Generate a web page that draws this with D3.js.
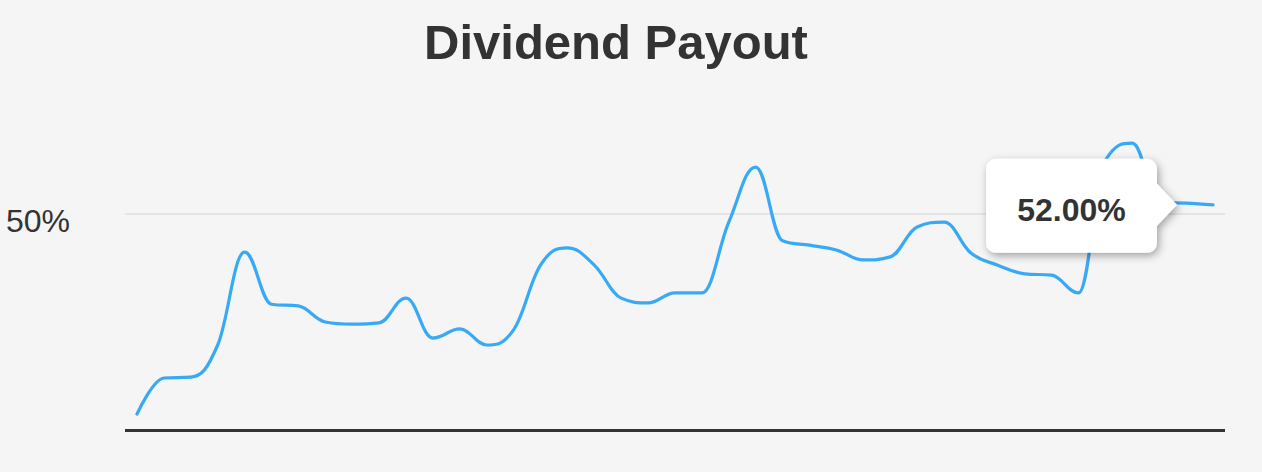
<!DOCTYPE html>
<html>
<head>
<meta charset="utf-8">
<script src="https://cdn.jsdelivr.net/npm/d3@7"></script>
<style>
  html, body { margin: 0; padding: 0; background: #f5f5f5; }
  svg { display: block; }
</style>
</head>
<body>
<svg id="chart" width="1262" height="472"></svg>
<script>
// ---- data ----
const title = "Dividend Payout";
const periods = d3.range(41).map(i => "P" + (i + 1));
const payout = [
  3.8, 12.1, 12.3, 19.7, 41.1, 29.1, 28.7, 25.0, 24.5, 24.8,
  30.5, 21.3, 23.4, 19.7, 23.2, 38.1, 42.1, 38.1, 30.5, 29.4,
  31.7, 31.7, 48.0, 60.7, 43.7, 42.7, 41.6, 39.3, 40.0, 46.9,
  48.0, 40.9, 38.1, 36.1, 35.8, 31.7, 62.3, 66.2, 52.6, 52.4,
  52.0
];
const yTicks = [50];
const tooltipIndex = 40;

// ---- layout ----
const W = 1262, H = 472;
const plot = { left: 125, right: 1225, top: 105, bottom: 430.5 };
const svg = d3.select("#chart");

const x = d3.scalePoint().domain(periods).range([137, 1213]);
const y = d3.scaleLinear().domain([0, 75]).range([plot.bottom, plot.bottom - 75 * 4.34]);

// Highcharts-like spline curve for d3.line
function SplineCurve(context) { this._context = context; }
SplineCurve.prototype = {
  areaStart() {}, areaEnd() {},
  lineStart() { this._pts = []; },
  point(px, py) { this._pts.push({ x: +px, y: +py }); },
  lineEnd() {
    const p = this._pts, ctx = this._context, s = 1.5, den = s + 1;
    if (!p.length) return;
    ctx.moveTo(p[0].x, p[0].y);
    for (let i = 1; i < p.length; i++) {
      const pt = p[i], last = p[i - 1], next = p[i + 1];
      let lcx, lcy;
      if (next) {
        lcx = (s * pt.x + last.x) / den;
        lcy = (s * pt.y + last.y) / den;
        let rcx = (s * pt.x + next.x) / den;
        let rcy = (s * pt.y + next.y) / den;
        if (rcx !== lcx) {
          const corr = ((rcy - lcy) * (rcx - pt.x)) / (rcx - lcx) + pt.y - rcy;
          lcy += corr; rcy += corr;
          if (lcy > last.y && lcy > pt.y) { lcy = Math.max(last.y, pt.y); rcy = 2 * pt.y - lcy; }
          else if (lcy < last.y && lcy < pt.y) { lcy = Math.min(last.y, pt.y); rcy = 2 * pt.y - lcy; }
          if (rcy > next.y && rcy > pt.y) { rcy = Math.max(next.y, pt.y); lcy = 2 * pt.y - rcy; }
          else if (rcy < next.y && rcy < pt.y) { rcy = Math.min(next.y, pt.y); lcy = 2 * pt.y - rcy; }
        }
        pt.rcx = rcx; pt.rcy = rcy;
      } else { lcx = pt.x; lcy = pt.y; }
      const c1x = last.rcx !== undefined ? last.rcx : last.x;
      const c1y = last.rcy !== undefined ? last.rcy : last.y;
      ctx.bezierCurveTo(c1x, c1y, lcx, lcy, pt.x, pt.y);
    }
  }
};
const splineCurve = ctx => new SplineCurve(ctx);

// defs
const defs = svg.append("defs");
const f = defs.append("filter").attr("id", "shadow").attr("x", "-20%").attr("y", "-30%").attr("width", "150%").attr("height", "170%");
f.append("feDropShadow").attr("dx", 2).attr("dy", 3).attr("stdDeviation", 4)
  .attr("flood-color", "#000").attr("flood-opacity", 0.35);

// background
svg.append("rect").attr("width", W).attr("height", H).attr("fill", "#f5f5f5");

// title
svg.append("text").attr("x", 616).attr("y", 58.5).attr("text-anchor", "middle")
  .attr("font-family", "'Liberation Sans', Arial, Helvetica, sans-serif")
  .attr("font-weight", "bold").attr("font-size", 49).attr("fill", "#333333")
  .text(title);

// gridlines + labels
const yAxis = d3.axisLeft(y).tickValues(yTicks).tickSize(-(plot.right - plot.left))
  .tickFormat(d => d + "%").tickPadding(55);
const ga = svg.append("g").attr("transform", `translate(${plot.left},0)`).call(yAxis);
ga.select(".domain").remove();
ga.selectAll(".tick line").attr("stroke", "#e4e4e4").attr("stroke-width", 2);
ga.selectAll(".tick text")
  .attr("font-family", "'Liberation Sans', Arial, Helvetica, sans-serif")
  .attr("font-size", 32).attr("fill", "#333333").attr("dy", "0.55em");

// baseline
const xAxis = d3.axisBottom(x).tickValues([]).tickSizeOuter(0);
const gx = svg.append("g").attr("transform", `translate(0,${plot.bottom})`).call(xAxis);
gx.select(".domain").attr("d", `M${plot.left},0H${plot.right}`)
  .attr("stroke", "#333333").attr("stroke-width", 3);

// line
const line = d3.line().x((d, i) => x(periods[i])).y(d => y(d)).curve(splineCurve);
svg.append("path").datum(payout).attr("d", line)
  .attr("fill", "none").attr("stroke", "#38a9f4").attr("stroke-width", 3.2)
  .attr("stroke-linejoin", "round").attr("stroke-linecap", "round");

// tooltip
const tx = x(periods[tooltipIndex]), ty = y(payout[tooltipIndex]);
const tipX = tx - 36, bw = 171, bh = 94, r = 10;
const bx1 = tipX - 20, bx0 = bx1 - bw, by0 = ty - 46, by1 = by0 + bh;
const ph = 21;
const tipPath = d3.path();
tipPath.moveTo(bx0 + r, by0);
tipPath.lineTo(bx1 - r, by0);
tipPath.arcTo(bx1, by0, bx1, by0 + r, r);
tipPath.lineTo(bx1, ty - ph);
tipPath.lineTo(tipX, ty);
tipPath.lineTo(bx1, ty + ph);
tipPath.lineTo(bx1, by1 - r);
tipPath.arcTo(bx1, by1, bx1 - r, by1, r);
tipPath.lineTo(bx0 + r, by1);
tipPath.arcTo(bx0, by1, bx0, by1 - r, r);
tipPath.lineTo(bx0, by0 + r);
tipPath.arcTo(bx0, by0, bx0 + r, by0, r);
tipPath.closePath();
svg.append("path").attr("d", tipPath.toString()).attr("fill", "#ffffff").attr("filter", "url(#shadow)");
svg.append("text").attr("x", (bx0 + bx1) / 2).attr("y", ty + 16).attr("text-anchor", "middle")
  .attr("font-family", "'Liberation Sans', Arial, Helvetica, sans-serif")
  .attr("font-weight", "bold").attr("font-size", 32).attr("fill", "#333333")
  .text(d3.format(".2f")(payout[tooltipIndex]) + "%");
</script>
</body>
</html>
